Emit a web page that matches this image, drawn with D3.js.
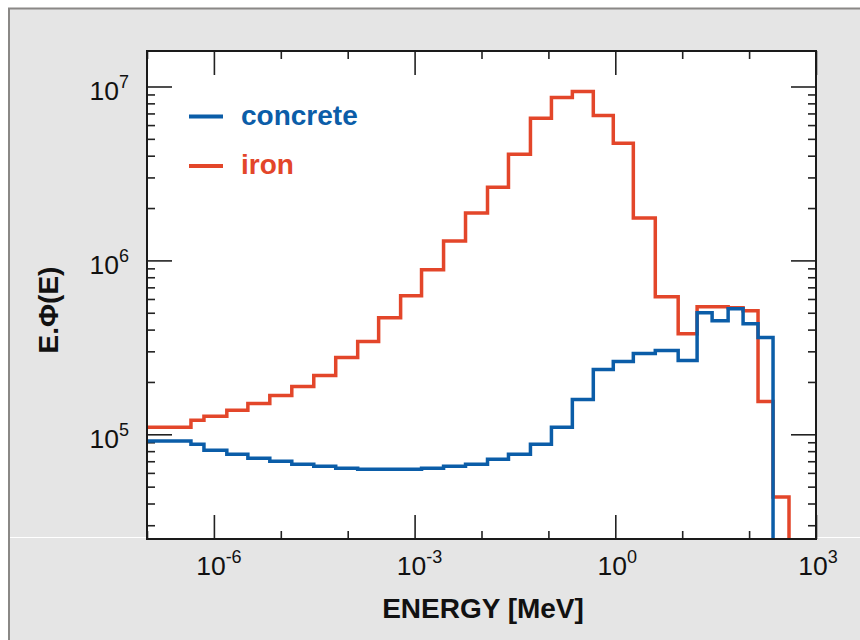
<!DOCTYPE html>
<html>
<head>
<meta charset="utf-8">
<script src="https://cdn.jsdelivr.net/npm/d3@7"></script>
<style>
  html, body { margin: 0; padding: 0; background: #fff; }
  svg { display: block; font-family: "Liberation Sans", Arial, Helvetica, sans-serif; }
</style>
</head>
<body>
<svg id="chart" width="860" height="640"></svg>
<script>
// ── Data (bin edges in MeV, E.Phi(E) per bin) ──
const binEdges = [4e-8, 4.54e-7, 7.1e-7, 1.56e-6, 3.22e-6, 6.85e-6, 1.46e-5, 3.11e-5, 6.62e-5,
  1.41e-4, 2.9e-4, 6.18e-4, 1.27e-3, 2.71e-3, 5.77e-3, 1.23e-2, 2.53e-2, 5.39e-2, 0.111,
  0.228, 0.469, 0.933, 1.86, 3.96, 8.71, 16.7, 28.0, 48.6, 81.3, 136, 228, 395];

const ironFlux = [1.097e5, 1.203e5, 1.268e5, 1.373e5, 1.506e5, 1.673e5, 1.884e5, 2.179e5,
  2.763e5, 3.412e5, 4.682e5, 6.26e5, 8.821e5, 1.293e6, 1.872e6, 2.638e6, 4.076e6, 6.557e6,
  8.65e6, 9.362e6, 6.822e6, 4.713e6, 1.752e6, 6.178e5, 3.792e5, 5.415e5, 5.415e5, 5.344e5,
  5.136e5, 1.546e5, 4.355e4];

const concreteFlux = [9.155e4, 8.765e4, 8.1e4, 7.68e4, 7.287e4, 7.005e4, 6.733e4, 6.557e4,
  6.387e4, 6.303e4, 6.303e4, 6.303e4, 6.387e4, 6.557e4, 6.733e4, 7.19e4, 7.68e4, 8.765e4,
  1.097e5, 1.587e5, 2.358e5, 2.62e5, 2.912e5, 3.029e5, 2.656e5, 5.0e5, 4.501e5, 5.275e5,
  4.327e5, 3.597e5];

const xMajorExp = [-6, -3, 0, 3];
const yMajorExp = [5, 6, 7];
const seriesNames = ["concrete", "iron"];
const seriesColors = ["#0b5da8", "#e3462a"];

// ── Layout ──
const plot = { left: 147, right: 816, top: 51, bottom: 539 };
const svg = d3.select("#chart");

const x = d3.scaleLog().domain([1e-7, 1e3]).range([plot.left, plot.right]);
const y = d3.scaleLog().domain([2.5e4, 1.6e7]).range([plot.bottom, plot.top]);

// ── Background panel ──
svg.append("rect")
  .attr("x", 9).attr("y", 9).attr("width", 860).attr("height", 640)
  .attr("fill", "#e5e5e5");
svg.append("line")
  .attr("x1", 8).attr("x2", 860).attr("y1", 8.5).attr("y2", 8.5)
  .attr("stroke", "#8a8886").attr("stroke-width", 2);
svg.append("line")
  .attr("x1", 9).attr("x2", 9).attr("y1", 8).attr("y2", 640)
  .attr("stroke", "#8a8886").attr("stroke-width", 2);
svg.append("line")
  .attr("x1", 10).attr("x2", 860).attr("y1", 537.5).attr("y2", 537.5)
  .attr("stroke", "#fff").attr("stroke-width", 1);

svg.append("rect")
  .attr("x", plot.left).attr("y", plot.top)
  .attr("width", plot.right - plot.left).attr("height", plot.bottom - plot.top)
  .attr("fill", "#fff");

// ── Ticks (inward on all four sides) ──
const xMajor = xMajorExp.map(e => Math.pow(10, e));
const xMinor = d3.range(-7, 4).map(e => Math.pow(10, e)).filter(v => !xMajor.includes(v));
const yMajor = yMajorExp.map(e => Math.pow(10, e));
const yMinor = [];
d3.range(4, 8).forEach(e => d3.range(2, 10).forEach(m => {
  const v = m * Math.pow(10, e);
  if (v > y.domain()[0] && v < y.domain()[1]) yMinor.push(v);
}));

function tickGroup(axis, tx, ty) {
  const g = svg.append("g").attr("transform", `translate(${tx},${ty})`).call(axis);
  g.select(".domain").remove();
  g.selectAll(".tick line").attr("stroke", "#222").attr("stroke-width", 1.6);
  g.selectAll(".tick text").remove();
  return g;
}

tickGroup(d3.axisBottom(x).tickValues(xMajor).tickSize(-24), 0, plot.bottom);
tickGroup(d3.axisBottom(x).tickValues(xMinor).tickSize(-8), 0, plot.bottom);
tickGroup(d3.axisTop(x).tickValues(xMajor).tickSize(-24), 0, plot.top);
tickGroup(d3.axisTop(x).tickValues(xMinor).tickSize(-8), 0, plot.top);
tickGroup(d3.axisLeft(y).tickValues(yMajor).tickSize(-25), plot.left, 0);
tickGroup(d3.axisLeft(y).tickValues(yMinor).tickSize(-8), plot.left, 0);
tickGroup(d3.axisRight(y).tickValues(yMajor).tickSize(-25), plot.right, 0);
tickGroup(d3.axisRight(y).tickValues(yMinor).tickSize(-8), plot.right, 0);

// ── Tick labels ──
function powerLabel(sel, exp) {
  sel.append("tspan").text("10");
  sel.append("tspan").attr("dy", -12).attr("font-size", 18).text(exp);
}

svg.append("g").selectAll("text")
  .data(xMajorExp)
  .join("text")
  .attr("x", d => x(Math.pow(10, d)) + (d < 0 ? 5 : 2))
  .attr("y", 575)
  .attr("text-anchor", "middle")
  .attr("font-size", 26.5)
  .attr("fill", "#111")
  .each(function(d) { powerLabel(d3.select(this), d); });

svg.append("g").selectAll("text")
  .data(yMajorExp)
  .join("text")
  .attr("x", 129)
  .attr("y", d => y(Math.pow(10, d)) + 14)
  .attr("text-anchor", "end")
  .attr("font-size", 26.5)
  .attr("fill", "#111")
  .each(function(d) { powerLabel(d3.select(this), d); });

// ── Axis titles ──
svg.append("text")
  .attr("x", 483)
  .attr("y", 618)
  .attr("text-anchor", "middle")
  .attr("font-size", 28)
  .attr("font-weight", "bold")
  .attr("fill", "#111")
  .text("ENERGY [MeV]");

svg.append("text")
  .attr("transform", "translate(58,310) rotate(-90)")
  .attr("text-anchor", "middle")
  .attr("font-size", 28)
  .attr("font-weight", "bold")
  .attr("fill", "#111")
  .text("E.Φ(E)");

// ── Histogram step lines ──
svg.append("clipPath").attr("id", "plot-clip")
  .append("rect")
  .attr("x", plot.left).attr("y", plot.top)
  .attr("width", plot.right - plot.left).attr("height", plot.bottom - plot.top);

const line = d3.line()
  .x(d => x(d[0]))
  .y(d => y(d[1]))
  .curve(d3.curveStepAfter);

function stepPoints(vals) {
  const pts = vals.map((v, i) => [binEdges[i], v]);
  const end = binEdges[vals.length];
  pts.push([end, vals[vals.length - 1]]);
  pts.push([end, 1e4]);
  return pts;
}

const curves = svg.append("g").attr("clip-path", "url(#plot-clip)");
curves.append("path")
  .attr("d", line(stepPoints(ironFlux)))
  .attr("fill", "none")
  .attr("stroke", seriesColors[1])
  .attr("stroke-width", 3.5);
curves.append("path")
  .attr("d", line(stepPoints(concreteFlux)))
  .attr("fill", "none")
  .attr("stroke", seriesColors[0])
  .attr("stroke-width", 3.5);

// ── Frame ──
svg.append("rect")
  .attr("x", plot.left).attr("y", plot.top)
  .attr("width", plot.right - plot.left).attr("height", plot.bottom - plot.top)
  .attr("fill", "none")
  .attr("stroke", "#1a1a1a")
  .attr("stroke-width", 2);

// ── Legend ──
const legend = svg.append("g").selectAll("g")
  .data(seriesNames)
  .join("g")
  .attr("transform", (d, i) => `translate(0,${116.5 + i * 49.5})`);

legend.append("line")
  .attr("x1", 189).attr("x2", 223)
  .attr("stroke", (d, i) => seriesColors[i])
  .attr("stroke-width", 4);

legend.append("text")
  .attr("x", 241)
  .attr("y", 8)
  .attr("font-size", 28)
  .attr("font-weight", "bold")
  .attr("fill", (d, i) => seriesColors[i])
  .text(d => d);
</script>
</body>
</html>
